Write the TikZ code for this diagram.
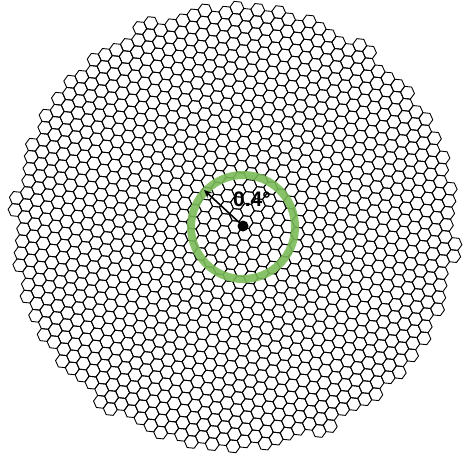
\documentclass[tikz,border=0pt]{standalone}
\usepackage{fontspec}
\setmainfont{Liberation Sans}
\usetikzlibrary{arrows.meta}
\definecolor{ringgreen}{RGB}{122,186,88}
\tikzset{
  hexline/.style={draw=black, line width=0.9pt, line join=round},
  ring/.style={draw=ringgreen, line width=8pt, opacity=0.9},
  pointer/.style={draw=black, line width=1.6pt, -{Stealth[length=8pt,width=7pt]}},
  dotnode/.style={circle, fill=black, inner sep=0pt, minimum size=11pt},
  anglabel/.style={font=\bfseries\fontsize{21}{21}\selectfont, inner sep=0pt}
}
\begin{document}
\begin{tikzpicture}[x=1pt,y=-1pt]
\useasboundingbox (0,0) rectangle (465,459);
\def\hr{7}
\def\hang{6}
\foreach \i in {-24,...,24}{
  \foreach \j in {-22,...,22}{
    \pgfmathsetmacro{\hxu}{1.5*\hr*\i}
    \pgfmathsetmacro{\hxv}{1.7320508*\hr*(\j+0.5*mod(abs(\i),2))}
    \pgfmathsetmacro{\hcx}{\hxu*cos(\hang)-\hxv*sin(\hang)}
    \pgfmathsetmacro{\hcy}{\hxu*sin(\hang)+\hxv*cos(\hang)}
    \pgfmathsetmacro{\hdist}{veclen(\hcx,\hcy)}
    \ifdim \hdist pt < 221pt
      \draw[hexline, shift={(235+\hcx,227+\hcy)}]
        (\hang:\hr) -- (\hang+60:\hr) -- (\hang+120:\hr) -- (\hang+180:\hr)
        -- (\hang+240:\hr) -- (\hang+300:\hr) -- cycle;
    \fi
  }
}
\draw[ring] (243,227) circle (52);
\node[dotnode] (ctr) at (243,226) {};
\coordinate (tip) at (204,190);
\draw[pointer] (ctr.center) -- (tip);
\node[anglabel] (lab) at (252,199) {0.4°};
\end{tikzpicture}
\end{document}
